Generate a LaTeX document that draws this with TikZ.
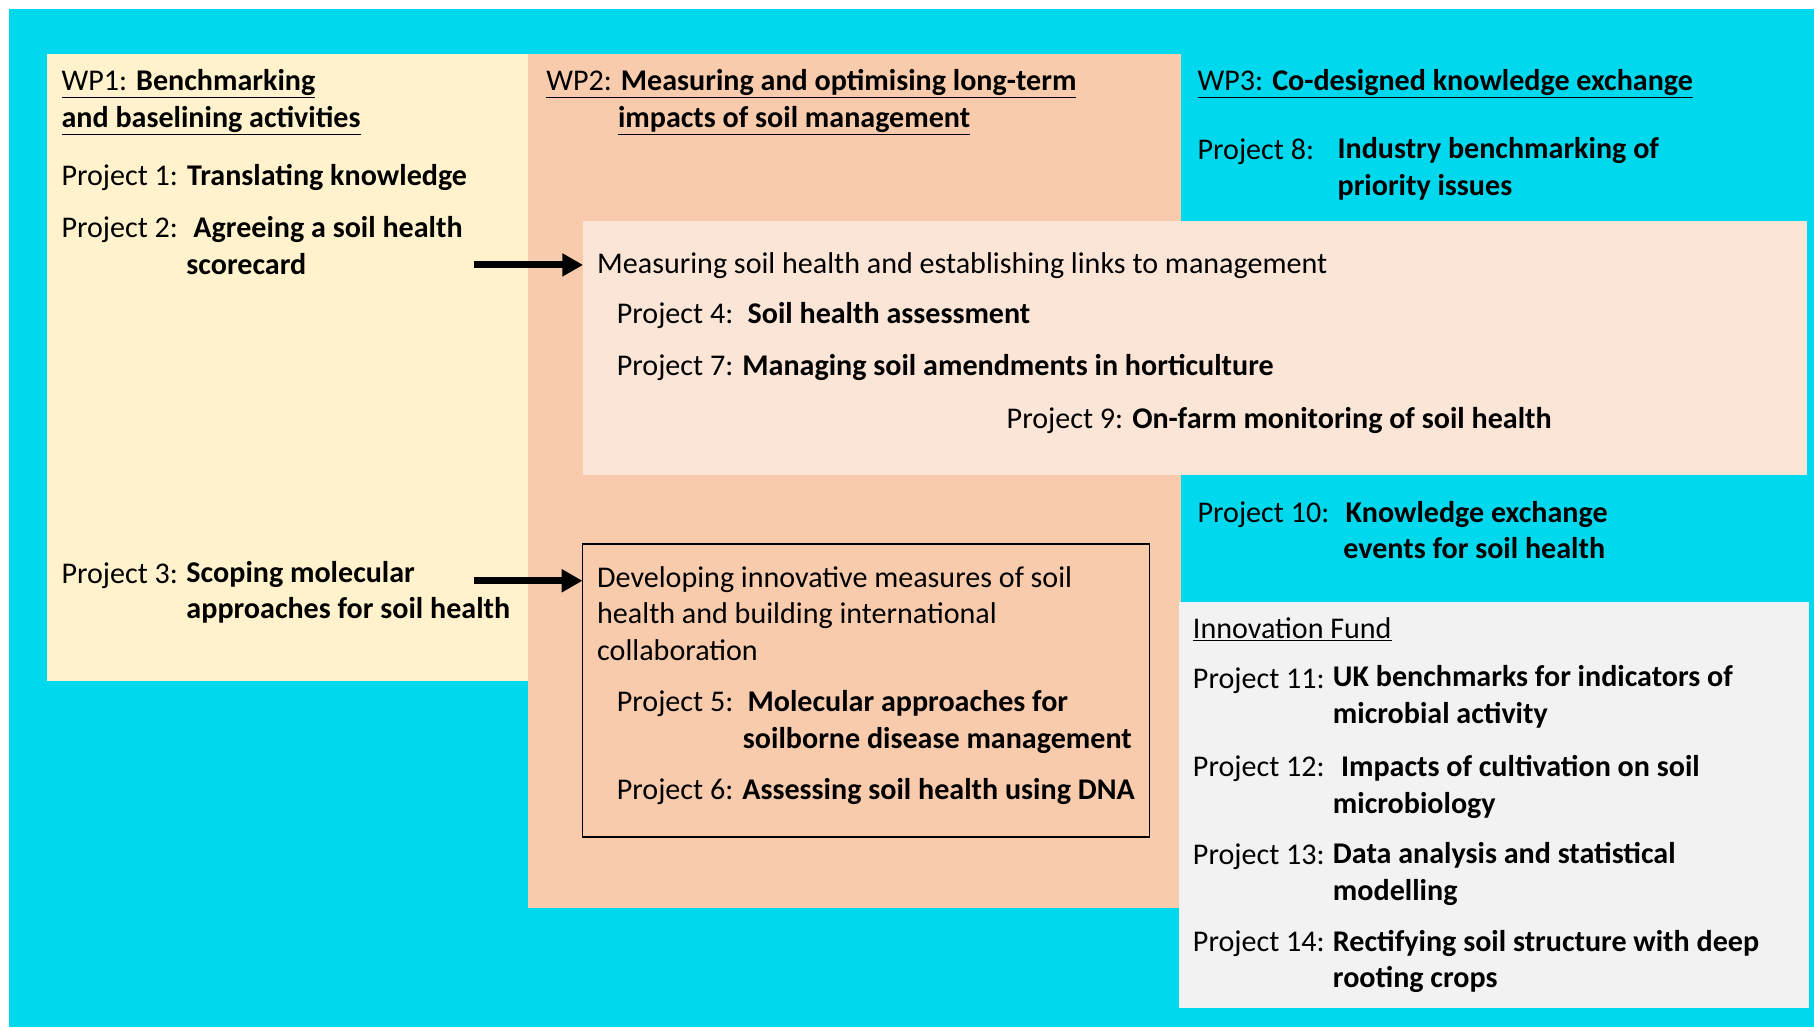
\documentclass[tikz,border=0pt]{standalone}
\usepackage{fontspec}
\setmainfont{Carlito}
\usetikzlibrary{arrows.meta}
\definecolor{wpcyan}{RGB}{0,216,238}
\definecolor{wponefill}{RGB}{255,242,204}
\definecolor{wptwofill}{RGB}{248,203,173}
\definecolor{measfill}{RGB}{251,229,214}
\definecolor{innofill}{RGB}{242,242,242}

\begin{document}
\begin{tikzpicture}[x=1pt,y=-1pt,
  panel/.style={inner sep=0pt,outer sep=0pt,anchor=north west},
  txt/.style={anchor=base west,inner sep=0pt,align=left,font=\fontsize{26}{31.7}\selectfont},
  boldtxt/.style={txt,font=\fontsize{26}{31.7}\selectfont\bfseries},
  feed/.style={-{Triangle[length=18pt,width=19pt]},line width=6pt}]
\useasboundingbox (0,0) rectangle (1568,888);
\fill[white] (0,0) rectangle (1568,888);
%% panels
\node[panel,fill=wpcyan,minimum width=1560pt,minimum height=880pt] (bg) at (8,8) {};
\node[panel,fill=wponefill,minimum width=415pt,minimum height=542pt] (wpone) at (41,47) {};
\node[panel,fill=wptwofill,minimum width=565pt,minimum height=738pt] (wptwo) at (456,47) {};
\node[panel,fill=measfill,minimum width=1058pt,minimum height=220pt] (measbox) at (504,191) {};
\node[panel,draw=black,line width=1.5pt,minimum width=490pt,minimum height=253pt] (devbox) at (503.5,470.5) {};
\node[panel,fill=innofill,minimum width=545pt,minimum height=351pt] (innobox) at (1019,520) {};
%
% WP1 (multi-line texts sit on their last line)
\node[txt] (wponehead) at (53,110) {\underline{WP1: \textbf{Benchmarking}}\\\underline{\textbf{and baselining activities}}};
\node[txt] (pone) at (53,160) {Project 1: \textbf{Translating knowledge}};
\node[txt] (ptwo) at (53,205) {Project 2:};
\node[boldtxt] (ptwotxt) at (161,237) {\hspace*{6pt}Agreeing a soil health\\scorecard};
\node[txt] (pthree) at (53,504) {Project 3:};
\node[boldtxt] (pthreetxt) at (161,535) {Scoping molecular\\approaches for soil health};
%
% WP2
\node[txt] (wptwohead) at (472,110) {\underline{WP2: \textbf{Measuring and optimising long-term}}\\\hspace*{62pt}\underline{\textbf{impacts of soil management}}};
\node[txt] (meastitle) at (516,236) {Measuring soil health and establishing links to management};
\node[txt] (pfour) at (533,280) {Project 4:};
\node[boldtxt] (pfourtxt) at (646,280) {Soil health assessment};
\node[txt] (pseven) at (533,325) {Project 7: \textbf{Managing soil amendments in horticulture}};
\node[txt] (pnine) at (870,370) {Project 9: \textbf{On-farm monitoring of soil health}};
\node[txt] (devtitle) at (516,571) {Developing innovative measures of soil\\health and building international\\collaboration};
\node[txt] (pfive) at (533,615) {Project 5:};
\node[boldtxt] (pfivetxt) at (642,647) {\hspace*{4pt}Molecular approaches for\\soilborne disease management};
\node[txt] (psix) at (533,691.5) {Project 6: \textbf{Assessing soil health using DNA}};
%
% WP3
\node[txt] (wpthreehead) at (1035,78) {\underline{WP3: \textbf{Co-designed knowledge exchange}}};
\node[txt] (peight) at (1035,138) {Project 8:};
\node[boldtxt] (peighttxt) at (1156,169) {Industry benchmarking of\\priority issues};
\node[txt] (pten) at (1035,452) {Project 10:};
\node[boldtxt] (ptentxt) at (1161,483) {\hspace*{2pt}Knowledge exchange\\events for soil health};
%
% Innovation Fund
\node[txt] (innohead) at (1031,551.5) {\underline{Innovation Fund}};
\node[txt] (peleven) at (1031,595) {Project 11:};
\node[boldtxt] (peleventxt) at (1152,625) {UK benchmarks for indicators of\\microbial activity};
\node[txt] (ptwelve) at (1031,671.5) {Project 12:};
\node[boldtxt] (ptwelvetxt) at (1152,703) {\hspace*{7pt}Impacts of cultivation on soil\\microbiology};
\node[txt] (pthirteen) at (1031,747.5) {Project 13:};
\node[boldtxt] (pthirteentxt) at (1152,778.5) {Data analysis and statistical\\modelling};
\node[txt] (pfourteen) at (1031,822.5) {Project 14:};
\node[boldtxt] (pfourteentxt) at (1152,854) {Rectifying soil structure with deep\\rooting crops};
%
% Arrows
\coordinate (feedone) at (410,229);
\coordinate (feedtwo) at (410,502);
\draw[feed] (feedone) -- (feedone -| measbox.west);
\draw[feed] (feedtwo) -- (feedtwo -| devbox.west);
\end{tikzpicture}
\end{document}
